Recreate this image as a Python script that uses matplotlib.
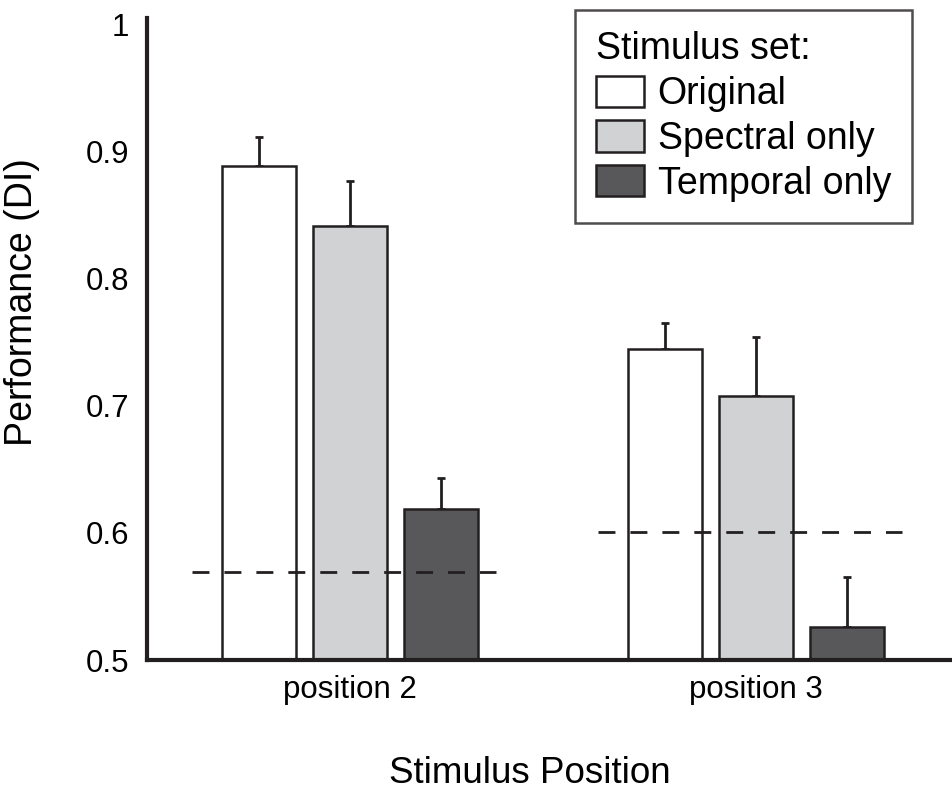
import matplotlib
matplotlib.use("Agg")
import matplotlib.pyplot as plt
import numpy as np

plt.rcParams["font.family"] = ["Liberation Sans", "DejaVu Sans"]

# data
positions = ["position 2", "position 3"]
sets = ["Original", "Spectral only", "Temporal only"]
original = [0.889, 0.745]
spectral = [0.842, 0.708]
temporal = [0.619, 0.526]
err_original = [0.023, 0.020]
err_spectral = [0.035, 0.046]
err_temporal = [0.024, 0.039]
chance = [0.569, 0.601]

colors = ["white", "#d1d2d4", "#58585a"]
edge = "#231f20"

fig = plt.figure(figsize=(9.52, 7.96), dpi=100)
ax = fig.add_axes([147 / 952, 136 / 796, 805 / 952, 642 / 796])

x = np.arange(len(positions))
width = 0.182
step = 0.224

series = [original, spectral, temporal]
errors = [err_original, err_spectral, err_temporal]
for i, (vals, errs) in enumerate(zip(series, errors)):
    xs = x + (i - 1) * step
    ax.bar(xs, vals, width, color=colors[i], edgecolor=edge, linewidth=1.8,
           label=sets[i], zorder=2)
    ax.errorbar(xs, vals, yerr=[np.zeros(len(errs)), errs], fmt="none",
                ecolor=edge, elinewidth=2, capsize=3, capthick=2, zorder=1)

# chance level lines
for xi, c in zip(x, chance):
    ax.plot([xi - 0.39, xi + 0.36], [c, c], color=edge, linewidth=2,
            dashes=(6.1, 5.4), zorder=3)

ax.set_xlim(-0.5, 1.483)
ax.set_ylim(0.5, 1.0055)
ax.set_yticks([0.5, 0.6, 0.7, 0.8, 0.9, 1.0])
ax.set_yticklabels(["0.5", "0.6", "0.7", "0.8", "0.9", "1"])
ax.set_xticks(x)
ax.set_xticklabels(positions)
ax.tick_params(axis="y", length=0, pad=13, labelsize=22.5)
ax.tick_params(axis="x", length=0, pad=11, labelsize=22.5)

for s in ["top", "right"]:
    ax.spines[s].set_visible(False)
for s in ["left", "bottom"]:
    ax.spines[s].set_linewidth(3)
    ax.spines[s].set_color(edge)

ax.set_ylabel("Performance (DI)", fontsize=27)
ax.set_xlabel("Stimulus Position", fontsize=26.5)
ax.yaxis.set_label_coords(-0.133, 0.558)
ax.xaxis.set_label_coords(0.476, -0.15)

leg = ax.legend(title="Stimulus set:", loc="upper left",
                bbox_to_anchor=(575 / 952, 786 / 796),
                bbox_transform=fig.transFigure, fontsize=27, title_fontsize=27,
                alignment="left", frameon=True, fancybox=False,
                handlelength=1.28, handleheight=0.9, handletextpad=0.35,
                labelspacing=0.22, borderpad=0.57, borderaxespad=0)
leg.get_frame().set_edgecolor(edge)
leg.get_frame().set_linewidth(1.8)

fig.savefig("out.png", dpi=100)
